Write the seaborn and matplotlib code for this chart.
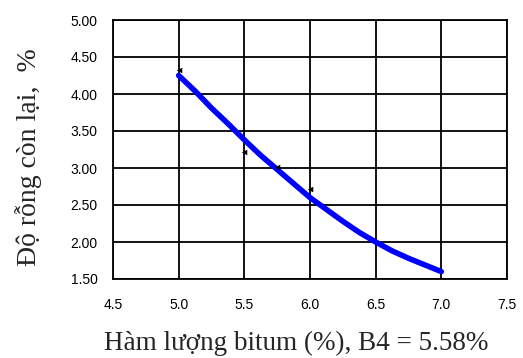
import matplotlib
matplotlib.use("Agg")
import matplotlib.pyplot as plt
import seaborn as sns
import pandas as pd

# Measured air voids versus bitumen content
bitumen_pts = [5.0, 5.5, 5.75, 6.0]
voids_pts = [4.33, 3.22, 3.02, 2.72]

# Fitted trend curve
bitumen_fit = [5.0, 5.125, 5.25, 5.375, 5.5, 5.625, 5.75, 5.875, 6.0,
               6.125, 6.25, 6.375, 6.5, 6.625, 6.75, 6.875, 7.0]
voids_fit = [4.25, 4.04, 3.81, 3.60, 3.38, 3.17, 2.98, 2.79, 2.60,
             2.44, 2.28, 2.13, 2.00, 1.88, 1.78, 1.69, 1.60]

x_ticks = [4.5, 5.0, 5.5, 6.0, 6.5, 7.0, 7.5]
y_ticks = [1.5, 2.0, 2.5, 3.0, 3.5, 4.0, 4.5, 5.0]

sns.set_style("white")
plt.rcParams['font.family'] = ['Liberation Sans', 'DejaVu Sans']

fig = plt.figure(figsize=(5.23, 3.58), dpi=100)
ax = fig.add_axes([113 / 523, 1 - 279 / 358, 394 / 523, 259 / 358])

fit_df = pd.DataFrame({"b": bitumen_fit, "v": voids_fit})
pts_df = pd.DataFrame({"b": bitumen_pts, "v": voids_pts})

sns.lineplot(data=fit_df, x="b", y="v", ax=ax, color="#0000ff",
             linewidth=4.0, zorder=3, sort=False)
sns.scatterplot(data=pts_df, x="b", y="v", ax=ax, color="black",
                marker="<", s=16, linewidth=0, zorder=4)

ax.set_xlim(4.5, 7.5)
ax.set_ylim(1.5, 5.0)
ax.set_xticks(x_ticks)
ax.set_yticks(y_ticks)
ax.set_xticklabels([f"{v:.1f}" for v in x_ticks])
ax.set_yticklabels([f"{v:.2f}" for v in y_ticks])

ax.grid(True, color="black", linewidth=1.3)
ax.set_axisbelow(True)
for s in ax.spines.values():
    s.set_visible(True)
    s.set_color("black")
    s.set_linewidth(1.3)

ax.tick_params(axis="both", direction="out", length=6, width=1.3,
               colors="black", labelsize=10, pad=5)
ax.tick_params(axis="x", pad=8)

serif = ['Liberation Serif', 'DejaVu Serif']
ax.set_xlabel("Hàm lượng bitum (%), B4 = 5.58%", fontsize=19.5, family=serif)
ax.set_ylabel("Độ rỗng còn lại,  %", fontsize=20, family=serif)
ax.xaxis.set_label_coords(0.464, -0.2)
ax.yaxis.set_label_coords(-0.18, 0.47)

fig.savefig("out.png", dpi=100)
